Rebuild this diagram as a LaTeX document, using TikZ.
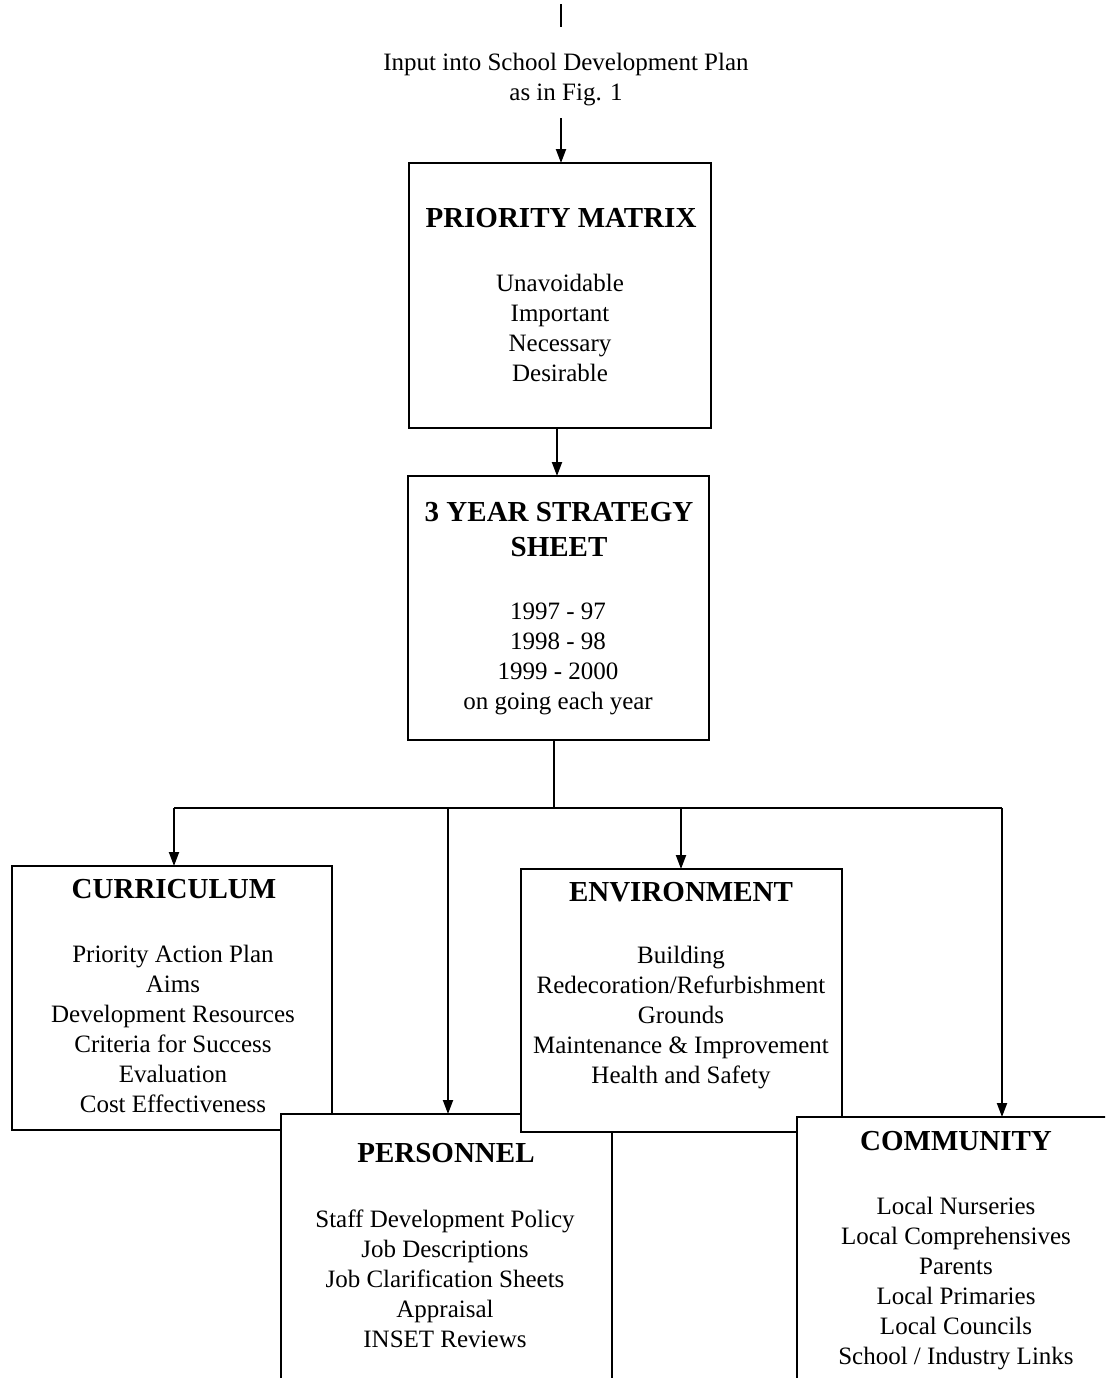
\documentclass[tikz,border=0pt]{standalone}
\usepackage{fontspec}
\setmainfont{Liberation Serif}
\usetikzlibrary{arrows.meta}
\begin{document}
\begin{tikzpicture}[x=0.5pt,y=-0.5pt,
  box/.style={draw, line width=1pt, fill=white, inner sep=0pt, outer sep=0pt, rectangle},
  ttl/.style={font=\fontsize{14.5}{17.5}\selectfont\bfseries, align=center, inner sep=0pt},
  itm/.style={font=\fontsize{12.5}{15}\selectfont, align=center, inner sep=0pt},
  arr/.style={line width=1pt, -{Triangle[length=7pt,width=5pt]}},
  ln/.style={line width=1pt}]
\useasboundingbox[fill=white] (0,0) rectangle (1105,1378);
\clip (0,0) rectangle (1105,1378);

% top input
\coordinate (s1) at (561,4);
\coordinate (s2) at (561,27);
\node[itm] (inp) at (566,80) {Input into School Development Plan\\as in Fig. 1};
\coordinate (s3) at (561,118);

% priority matrix
\node[box, minimum width=151pt, minimum height=132.5pt] (pm) at (560,295.5) {};
\node[ttl] (pmt) at (561,218) {PRIORITY MATRIX};
\node[itm] (pmi) at (560,327.5) {Unavoidable\\Important\\Necessary\\Desirable};

% strategy
\node[box, minimum width=150.5pt, minimum height=132pt] (ys) at (558.5,608) {};
\node[ttl] (yst) at (559,529.5) {3 YEAR STRATEGY\\SHEET};
\node[itm] (ysi) at (558,659) {1997 - 97\\1998 - 98\\1999 - 2000\\on going each year};

% curriculum
\node[box, minimum width=160pt, minimum height=132pt] (cur) at (172,998) {};
\node[ttl] (curt) at (174,889) {CURRICULUM};
\node[itm] (curi) at (173,1029) {Priority Action Plan\\Aims\\Development Resources\\Criteria for Success\\Evaluation\\Cost Effectiveness};

% personnel
\node[box, minimum width=165.5pt, minimum height=150pt] (per) at (446.5,1264) {};
\node[ttl] (pert) at (446,1153) {PERSONNEL};
\node[itm] (peri) at (445,1279) {Staff Development Policy\\Job Descriptions\\Job Clarification Sheets\\Appraisal\\INSET Reviews};

% environment
\node[box, minimum width=160.5pt, minimum height=131.5pt] (env) at (681.5,1000.5) {};
\node[ttl] (envt) at (681,892) {ENVIRONMENT};
\node[itm] (envi) at (681,1018) {Building\\Redecoration/Refurbishment\\Grounds\\Maintenance \& Improvement\\Health and Safety};

% community
\node[box, minimum width=165pt, minimum height=150pt] (com) at (962,1267) {};
\node[ttl] (comt) at (956,1141) {COMMUNITY};
\node[itm] (comi) at (956,1284) {Local Nurseries\\Local Comprehensives\\Parents\\Local Primaries\\Local Councils\\School / Industry Links};

% connectors
\draw[ln] (s1) -- (s2);
\draw[arr] (s3) -- (s3 |- pm.north);
\draw[arr] (557,428) -- (557,476);
\coordinate (br) at (554,808);
\coordinate (c1) at (174,808);
\coordinate (c2) at (448,808);
\coordinate (c3) at (681,808);
\coordinate (c4) at (1002,808);
\draw[ln] (br |- ys.south) -- (br);
\draw[ln] (c1) -- (c4);
\draw[arr] (c1) -- (c1 |- cur.north);
\draw[arr] (c2) -- (c2 |- per.north);
\draw[arr] (c3) -- (c3 |- env.north);
\draw[arr] (c4) -- (c4 |- com.north);
\end{tikzpicture}
\end{document}
